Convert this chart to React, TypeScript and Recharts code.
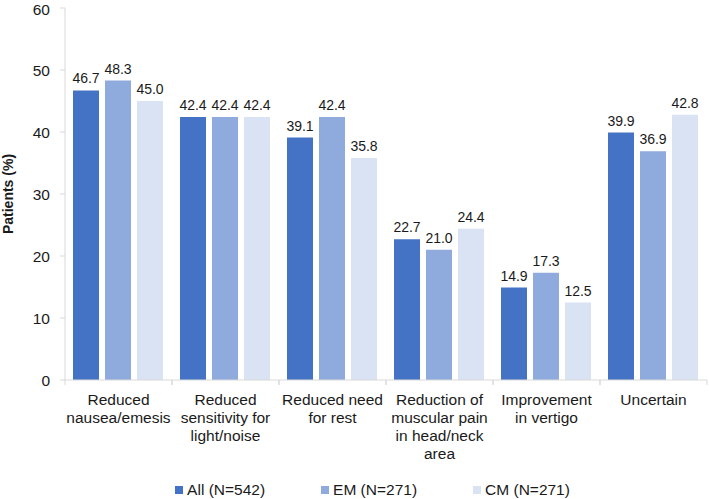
import { BarChart, Bar, XAxis, YAxis, Legend, LabelList, Label } from 'recharts'

const categories = [
  'Reduced\nnausea/emesis',
  'Reduced\nsensitivity for\nlight/noise',
  'Reduced need\nfor rest',
  'Reduction of\nmuscular pain\nin head/neck\narea',
  'Improvement\nin vertigo',
  'Uncertain',
]
const allValues = [46.7, 42.4, 39.1, 22.7, 14.9, 39.9]
const emValues = [48.3, 42.4, 42.4, 21.0, 17.3, 36.9]
const cmValues = [45.0, 42.4, 35.8, 24.4, 12.5, 42.8]
const yTicks = [0, 10, 20, 30, 40, 50, 60]

const SERIES = [
  { key: 'all', name: 'All (N=542)', color: '#4472C4' },
  { key: 'em', name: 'EM (N=271)', color: '#8FAADC' },
  { key: 'cm', name: 'CM (N=271)', color: '#DAE3F3' },
]

const data = categories.map((name, i) => ({
  name,
  all: allValues[i],
  em: emValues[i],
  cm: cmValues[i],
}))

const FONT = '"Liberation Sans", Arial, sans-serif'
const CHART_W = 709
const LEFT = 65
const RIGHT = 2
const BAND = (CHART_W - LEFT - RIGHT) / categories.length

function CategoryTick(props: any) {
  const { x, y, payload } = props
  const lines = String(payload.value).split('\n')
  return (
    <g>
      <line x1={x - BAND / 2} x2={x - BAND / 2} y1={y} y2={y + 5} stroke="#d9d9d9" />
      <line x1={x + BAND / 2} x2={x + BAND / 2} y1={y} y2={y + 5} stroke="#d9d9d9" />
      <text x={x} y={y + 25} textAnchor="middle" fontSize={15.5} fill="#1a1a1a" fontFamily={FONT}>
        {lines.map((l, i) => (
          <tspan key={i} x={x} dy={i === 0 ? 0 : 18}>
            {l}
          </tspan>
        ))}
      </text>
    </g>
  )
}

function LegendContent() {
  return (
    <div
      style={{
        display: 'flex',
        justifyContent: 'center',
        gap: 56,
        height: 18,
        alignItems: 'center',
        fontFamily: FONT,
        fontSize: 15.5,
        color: '#1a1a1a',
        paddingLeft: 38,
      }}
    >
      {SERIES.map((s) => (
        <div key={s.key} style={{ display: 'flex', alignItems: 'center' }}>
          <span style={{ width: 8, height: 8, background: s.color, marginRight: 4, display: 'inline-block' }} />
          <span>{s.name}</span>
        </div>
      ))}
    </div>
  )
}

export default function App() {
  return (
    <div style={{ position: 'absolute', left: 0, top: 0, background: '#fff' }}>
      <BarChart
        width={CHART_W}
        height={499}
        data={data}
        margin={{ top: 8, right: RIGHT, left: 0, bottom: 0 }}
        barCategoryGap={8}
        barGap={6}
      >
        <XAxis
          dataKey="name"
          interval={0}
          height={101}
          tickSize={0}
          tickMargin={0}
          tickLine={false}
          axisLine={{ stroke: '#d9d9d9' }}
          tick={<CategoryTick />}
        />
        <YAxis
          width={LEFT}
          domain={[0, 60]}
          ticks={yTicks}
          tickLine={{ stroke: '#d9d9d9' }}
          tickSize={5}
          tickMargin={10}
          axisLine={{ stroke: '#d9d9d9' }}
          tick={{ fontSize: 15.5, fill: '#1a1a1a', fontFamily: FONT }}
        >
          <Label
            content={() => (
              <text
                transform="translate(13,194) rotate(-90)"
                textAnchor="middle"
                fontSize={14}
                fontWeight="bold"
                fill="#1a1a1a"
                fontFamily={FONT}
              >
                Patients (%)
              </text>
            )}
          />
        </YAxis>
        <Legend verticalAlign="bottom" height={18} content={<LegendContent />} />
        {SERIES.map((s) => (
          <Bar key={s.key} dataKey={s.key} name={s.name} fill={s.color} isAnimationActive={false}>
            <LabelList
              dataKey={s.key}
              position="top"
              offset={7}
              formatter={(v: any) => Number(v).toFixed(1)}
              style={{ fontSize: 14, fill: '#1a1a1a', fontFamily: FONT }}
            />
          </Bar>
        ))}
      </BarChart>
    </div>
  )
}
